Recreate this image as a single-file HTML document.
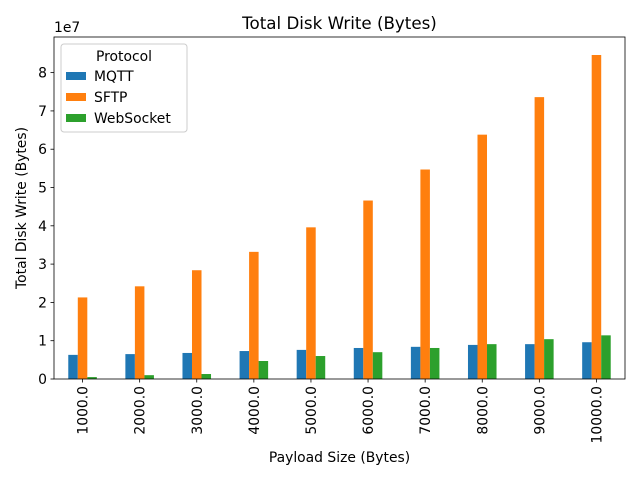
<!DOCTYPE html>
<html><head><meta charset="utf-8"><style>
body{margin:0;background:#fff;font-family:"DejaVu Sans","Liberation Sans",sans-serif;}
svg text{font-family:"DejaVu Sans","Liberation Sans",sans-serif;fill:#000;}
</style></head><body>
<svg id="c" width="640" height="480" xmlns="http://www.w3.org/2000/svg"></svg>
<script>
const categories=["1000.0","2000.0","3000.0","4000.0","5000.0","6000.0","7000.0","8000.0","9000.0","10000.0"];
const mqtt=[0.63,0.65,0.68,0.73,0.76,0.81,0.84,0.89,0.91,0.96];
const sftp=[2.13,2.42,2.84,3.32,3.96,4.66,5.47,6.38,7.36,8.46];
const websocket=[0.05,0.10,0.13,0.47,0.60,0.70,0.81,0.91,1.04,1.14];
const yTicks=[0,1,2,3,4,5,6,7,8];
const seriesNames=["MQTT","SFTP","WebSocket"];
const colors=["#1f77b4","#ff7f0e","#2ca02c"];
const L=54,R=625,T=37,B=379,yMax=8.93;
const FS=13.9;
const NS="http://www.w3.org/2000/svg";
const svg=document.getElementById('c');
function el(t,a,txt){const e=document.createElementNS(NS,t);for(const k in a)e.setAttribute(k,a[k]);if(txt!==undefined)e.textContent=txt;svg.appendChild(e);return e;}
const step=(R-L)/categories.length;
function xs(i){return L+step*(i+0.5);}
function ys(v){return B-(B-T)*v/yMax;}
const bw=step*0.5/3;
[mqtt,sftp,websocket].forEach((s,si)=>{s.forEach((v,i)=>{
 const x=xs(i)-1.5*bw+si*bw;
 const r=el('rect',{x:x,y:ys(v),width:bw,height:B-ys(v),fill:colors[si]});
 
 
});});
const ax=el('rect',{x:L,y:T,width:R-L,height:B-T,fill:'none',stroke:'#000','stroke-width':0.8});

yTicks.forEach(t=>{const y=ys(t);
 el('line',{x1:L-3.5,x2:L,y1:y,y2:y,stroke:'#000','stroke-width':0.8});
 const tx=el('text',{x:L-7,y:y+5,'font-size':FS,'text-anchor':'end'},t);
 
});
categories.forEach((c,i)=>{const x=xs(i);
 el('line',{x1:x,x2:x,y1:B,y2:B+3.5,stroke:'#000','stroke-width':0.8});
 const tx=el('text',{x:x+5,y:B+7,'font-size':FS,'text-anchor':'end',transform:`rotate(-90 ${x+5} ${B+7})`},c);
 
});
let t=el('text',{x:54,y:32,'font-size':FS},'1e7');
t=el('text',{x:339.5,y:29,'font-size':16.7,'text-anchor':'middle'},'Total Disk Write (Bytes)');
t=el('text',{x:339.5,y:462,'font-size':FS,'text-anchor':'middle'},'Payload Size (Bytes)');
t=el('text',{x:26,y:208,'font-size':FS,'text-anchor':'middle',transform:'rotate(-90 26 208)'},'Total Disk Write (Bytes)');
const lg=el('rect',{x:61,y:44,width:126,height:88,fill:'#fff',stroke:'#ccc',rx:3});
t=el('text',{x:124,y:61,'font-size':FS,'text-anchor':'middle'},'Protocol');
seriesNames.forEach((n,i)=>{const y=72+i*21;
 const r=el('rect',{x:66,y:y,width:20,height:8,fill:colors[i]});
 const tx=el('text',{x:94,y:y+9,'font-size':FS},n);
});
</script>
</body></html>
